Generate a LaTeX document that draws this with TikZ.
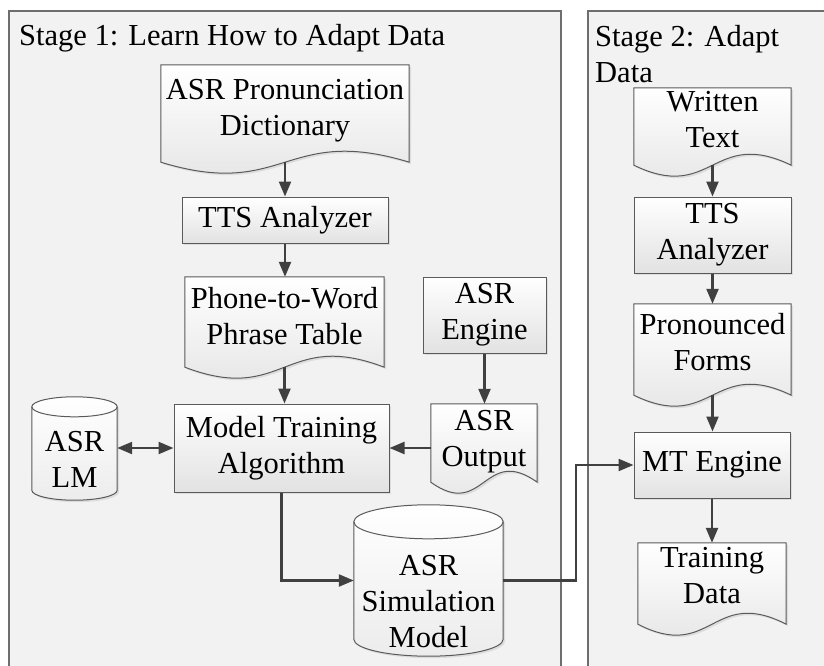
\documentclass[tikz,border=0pt]{standalone}
\usepackage{fontspec}
\setmainfont{Liberation Serif}
\usetikzlibrary{arrows.meta,calc,shadows}
\pgfdeclarelayer{bg}
\pgfdeclarelayer{shapes}
\pgfsetlayers{bg,shapes,main}
\definecolor{panelfill}{RGB}{242,242,242}
\definecolor{panelline}{RGB}{110,110,110}
\definecolor{boxline}{RGB}{90,90,90}
\definecolor{arrowc}{RGB}{64,64,64}
\definecolor{boxbottom}{RGB}{226,226,226}
\definecolor{cylbottom}{RGB}{236,236,236}
\tikzset{
  panel/.style={fill=panelfill, draw=panelline, line width=1.3pt},
  titletext/.style={inner sep=0pt, align=left},
  rbox/.style={draw=boxline, line width=1pt, top color=white, bottom color=boxbottom,
    align=center, inner sep=0pt,
    drop shadow={opacity=0.18, shadow xshift=2pt, shadow yshift=-2pt}},
  holder/.style={draw=none, inner sep=0pt},
  txt/.style={inner sep=0pt, align=center},
  docline/.style={draw=boxline, line width=1pt, top color=white, bottom color=boxbottom,
    drop shadow={opacity=0.18, shadow xshift=2pt, shadow yshift=-2pt}},
  cylline/.style={draw=boxline, line width=1pt, top color=white, bottom color=cylbottom,
    drop shadow={opacity=0.18, shadow xshift=2pt, shadow yshift=-2pt}},
  cyledge/.style={draw=boxline, line width=1pt},
  arr/.style={draw=arrowc, line width=2.3pt, -{Triangle[length=15pt,width=12pt]}},
  darr/.style={draw=arrowc, line width=2.3pt, {Triangle[length=15pt,width=12pt]}-{Triangle[length=15pt,width=12pt]}},
}
\newcommand\mydoc[1]{%
  \begin{pgfonlayer}{shapes}
  \draw[docline] (#1.north west) -- (#1.north east) -- (#1.south east)
    .. controls ($(#1.south)+(0,38)$) and ($(#1.south)+(0,-38)$) .. (#1.south west) -- cycle;
  \end{pgfonlayer}}
\newcommand\mycyl[2]{%
  \begin{pgfonlayer}{shapes}
  \draw[cylline] let \p1=(#1.north west), \p2=(#1.south east), \n1={0.5*(\x2-\x1)} in
    (\x1,\y1-#2pt) -- (\x1,\y2+#2pt) arc[start angle=180,end angle=360,x radius=\n1,y radius=#2pt]
    -- (\x2,\y1-#2pt) arc[start angle=0,end angle=180,x radius=\n1,y radius=#2pt] -- cycle;
  \draw[cyledge] let \p1=(#1.north west), \p2=(#1.south east), \n1={0.5*(\x2-\x1)} in
    (\x1,\y1-#2pt) arc[start angle=180,end angle=360,x radius=\n1,y radius=#2pt];
  \end{pgfonlayer}}
\begin{document}
\begin{tikzpicture}[x=1pt,y=1pt,font=\fontsize{30.5}{36}\selectfont]
\useasboundingbox (0,0) rectangle (824,-666);
\begin{pgfonlayer}{bg}
  \fill[white] (0,0) rectangle (824,-666);
  \draw[panel] (9,-11) rectangle (561,-690);
  \draw[panel] (588,-11) rectangle (850,-690);
\end{pgfonlayer}
\node[titletext, anchor=base west] (t1) at (19,-46) {Stage 1: Learn How to Adapt Data};
\node[titletext, anchor=north west] (t2) at (595,-25) {Stage 2: Adapt\\Data};

% Stage 1
\node[holder, minimum width=248pt, minimum height=97pt] (dict) at (285,-113.5) {};
\node[txt] (dict-t) at ([yshift=2.5pt]dict.center) {ASR Pronunciation\\Dictionary};
\node[rbox, minimum width=206pt, minimum height=46pt] (tts1) at (285,-220) {TTS Analyzer};
\node[holder, minimum width=199pt, minimum height=90pt] (p2w) at (284.5,-322) {};
\node[txt] (p2w-t) at ([yshift=6pt]p2w.center) {Phone-to-Word\\Phrase Table};
\node[rbox, minimum width=123pt, minimum height=76pt] (asreng) at (484.5,-315) {ASR\\Engine};
\node[holder, minimum width=106pt, minimum height=78pt] (asrout) at (484,-443) {};
\node[txt] (asrout-t) at ([yshift=1pt]asrout.center) {ASR\\Output};
\node[rbox, minimum width=215pt, minimum height=88pt] (mta) at (281.5,-448) {Model Training\\Algorithm};
\node[holder, minimum width=85pt, minimum height=103pt] (lm) at (74.5,-448.5) {};
\node[txt] (lm-t) at ([yshift=-11pt]lm.center) {ASR\\LM};
\node[holder, minimum width=149pt, minimum height=151pt] (sim) at (428.5,-580.5) {};
\node[txt] (sim-t) at ([yshift=-21pt]sim.center) {ASR\\Simulation\\Model};

% Stage 2
\node[holder, minimum width=157pt, minimum height=77pt] (wt) at (712.5,-126.5) {};
\node[txt] (wt-t) at ([yshift=7pt]wt.center) {Written\\Text};
\node[rbox, minimum width=157pt, minimum height=76pt] (tts2) at (712.5,-235) {TTS\\Analyzer};
\node[holder, minimum width=157pt, minimum height=91pt] (pf) at (712.5,-349.5) {};
\node[txt] (pf-t) at ([yshift=7.5pt]pf.center) {Pronounced\\Forms};
\node[rbox, minimum width=156pt, minimum height=66pt] (mt) at (712,-465) {MT Engine};
\node[holder, minimum width=148pt, minimum height=81pt] (td) at (712,-583.5) {};
\node[txt] (td-t) at ([yshift=8pt]td.center) {Training\\Data};

% shapes
\mydoc{dict}
\mydoc{p2w}
\mydoc{asrout}
\mydoc{wt}
\mydoc{pf}
\mydoc{td}
\mycyl{lm}{10}
\mycyl{sim}{17}

% connectors
\coordinate (jog) at (576,-466);
\draw[arr] (dict.south) -- (dict.south |- tts1.north);
\draw[arr] (tts1.south) -- (tts1.south |- p2w.north);
\draw[arr] (p2w.south) -- (p2w.south |- mta.north);
\draw[arr] (asreng.south) -- (asreng.south |- asrout.north);
\draw[arr] (asrout.west |- mta.east) -- (mta.east);
\draw[darr] (lm.east |- mta.west) -- (mta.west);
\draw[arr] (mta.south) |- (sim.west);
\draw[arr] (sim.east) -- (sim.east -| jog) -- (jog |- mt.west) -- (mt.west);
\draw[arr] (wt.south) -- (wt.south |- tts2.north);
\draw[arr] (tts2.south) -- (tts2.south |- pf.north);
\draw[arr] (pf.south) -- (pf.south |- mt.north);
\draw[arr] (mt.south) -- (mt.south |- td.north);
\end{tikzpicture}
\end{document}
